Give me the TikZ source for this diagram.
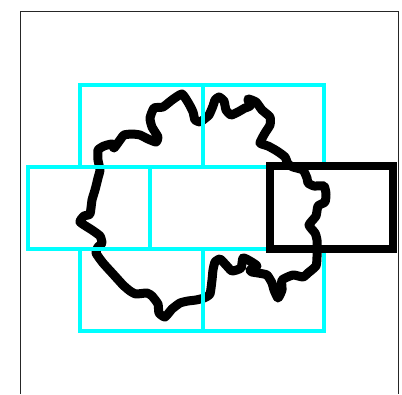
\documentclass[tikz,border=0pt]{standalone}
\definecolor{purecyan}{RGB}{0,255,255}
\begin{document}
\begin{tikzpicture}[x=1pt,y=-1pt,
  cell/.style={draw=purecyan,line width=4pt},
  hot/.style={draw=black,line width=8pt},
  blob/.style={draw=black,line width=9pt,line cap=round,line join=round}]
\useasboundingbox (0,0) rectangle (402,394);
\fill[white] (0,0) rectangle (402,394);
\draw[line width=1pt,black!85] (20.5,394) -- (20.5,11) -- (398,11) -- (398,394);
\draw[blob] plot[smooth,tension=0.3] coordinates {
 (203,120)(209,115)(213,106)(215,100)(219,97)(224,101)(226,110)(231,115)(238,112)(245,108)(250,106)(248,99)
 (256,102)(262,110)(270,117)(270,125)(265,133)(260,143)(268,146)(277,151)(285,157)(288,164)(293,167)(303,170)(307,178)(308,183)(314,186)(324,186)
 (326,194)(325,202)(318,206)(316,216)(309,225)(315,233)(317,240)(317,257)(316,266)(308,273)(303,277)(293,275)(282,280)(282,290)(278,298)
 (274,290)(272,283)(267,275)(258,273)(252,272)(250,270)(257,266)(250,261)(243,258)(241,268)(232,271)(226,265)(220,259)(215,262)(213,270)(212,280)(210,294)
 (204,298)(196,300)(188,301)(180,303)(172,309)(165,317)(159,313)(158,304)(152,296)(147,293)(136,294)(130,291)(123,285)
 (113,274)(103,263)(96,253)(98,247)(102,243)(100,236)(92,230)(80,222)(84,216)(90,214)(92,200)(95,190)(98,178)(100,170)
 (98,160)(98,150)(104,146)(112,144)(114,148)(120,140)(124,135)(132,134)(140,135)(148,139)(156,142)(158,137)(152,127)(150,118)(154,108)(163,107)(172,100)(182,94)
 (189,104)(193,112)(195,120)(200,122)(203,120)};
\draw[cell] (80.3,84.7) rectangle (203,166.5);
\draw[cell] (203,84.7) rectangle (324.3,166.5);
\draw[cell] (28,166.5) rectangle (149.5,249);
\draw[cell] (149.5,166.5) rectangle (271,249);
\draw[cell] (80.3,249) rectangle (203,330.8);
\draw[cell] (203,249) rectangle (324.3,330.8);
\draw[hot] (270.3,166.2) rectangle (393,249);
\end{tikzpicture}
\end{document}
